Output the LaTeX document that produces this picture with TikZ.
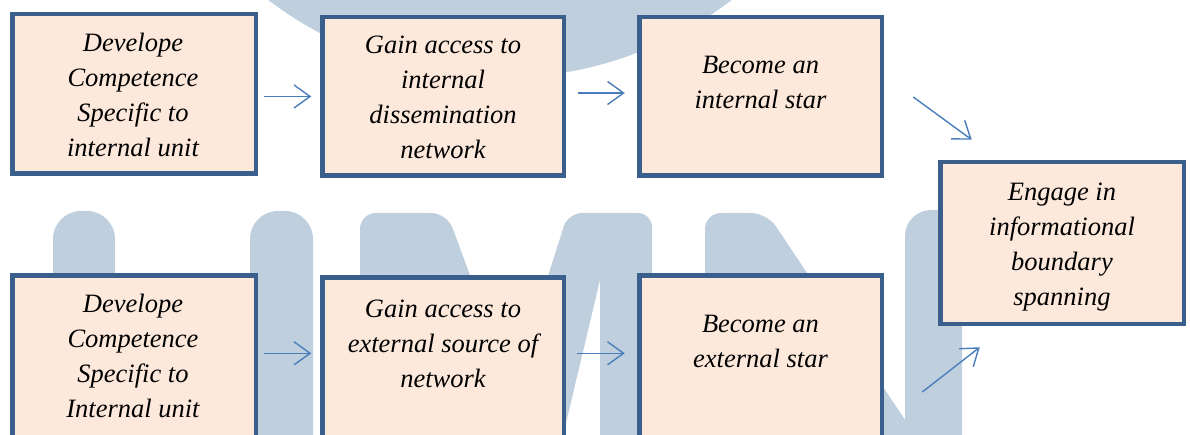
\documentclass[tikz,border=0pt]{standalone}
\usepackage{fontspec}
\setmainfont{Liberation Serif}
\usetikzlibrary{arrows.meta}

\definecolor{boxfill}{HTML}{FDE9DC}
\definecolor{boxline}{HTML}{3A5F8D}
\definecolor{arrowblue}{HTML}{4A7EBB}
\definecolor{logoblue}{HTML}{BFCFDE}

\begin{document}
\begin{tikzpicture}[x=1pt,y=1pt,
		box/.style={draw=boxline, fill=boxfill, line width=4.5pt, inner sep=0pt},
		txt/.style={align=center, inner sep=0pt, font=\fontsize{26.5}{35}\selectfont\itshape},
		arr/.style={draw=arrowblue, line width=1.4pt, -{Straight Barb[length=16pt,width=23pt]}},
		logo/.style={fill=logoblue}]
			\useasboundingbox (0,0) rectangle (1190,434);
			\clip (0,0) rectangle (1190,434);
			
			%%%letters behind
			\fill[logo] (500,739) circle (383);
			\fill[logo, rounded corners=28pt] (53,-40) rectangle (115,223);
			\fill[logo, rounded corners=28pt] (250,-40) rectangle (313,223);
			\fill[logo, rounded corners=16pt] (360,-6) -- (360,221) -- (447,221) -- (531,-6) -- cycle;
			\fill[logo] (496,-6) [rounded corners=14pt] -- (568,221) -- (652,221) [sharp corners] -- (652,-6) -- (600,-6) -- (600,154) -- (562,-6) -- cycle;
			\fill[logo, rounded corners=16pt] (705,-6) -- (705,221) -- (767,221) [sharp corners] -- (918.5,-6) -- cycle;
			\fill[logo, rounded corners=26pt] (905,-40) rectangle (962,224);
			
			%%boxes
			\foreach \n/\x/\y/\w/\h in {dev1/134/340/243.5/159.5, gain1/443/337.5/241.5/158.5,
				star1/760.5/337.5/242.5/158.5, engage/1062/191/243.5/161.5,
				dev2/134/77.5/243.5/162.5, gain2/443/76.5/241.5/160.5, star2/760.5/77.5/242.5/162.5}
			{
				\node[box, minimum width=\w pt, minimum height=\h pt] (\n) at (\x,\y) {};
			}
			
			%%texts
			\node[txt] (dev1t) at ([shift={(-1pt,-0.5pt)}]dev1.center) {Develope\\Competence\\Specific to\\internal unit};
			\node[txt] (gain1t) at ([yshift=-1pt]gain1.center) {Gain access to\\internal\\dissemination\\network};
			\node[txt] (star1t) at ([yshift=14pt]star1.center) {Become an\\internal star};
			\node[txt] (engaget) at ([yshift=-4.5pt]engage.center) {Engage in\\informational\\boundary\\spanning};
			\node[txt] (dev2t) at ([shift={(-1pt,0.5pt)}]dev2.center) {Develope\\Competence\\Specific to\\Internal unit};
			\node[txt] (gain2t) at ([yshift=13.5pt]gain2.center) {Gain access to\\external source of\\network};
			\node[txt] (star2t) at ([yshift=15pt]star2.center) {Become an\\external star};
			
			%%arrows
			\draw[arr, shorten <=6.25pt, shorten >=8.75pt] (dev1.east |- gain1.west) -- (gain1.west);
			\draw[arr, shorten <=11.75pt, shorten >=12.25pt] ([yshift=3.5pt]gain1.east) -- ([yshift=3.5pt]star1.west);
			\draw[arr] ([shift={(29.25pt,-0.5pt)}]star1.east) -- ([shift={(33.75pt,20.25pt)}]engage.north west);
			\draw[arr, shorten <=6.25pt, shorten >=8.75pt] ([yshift=3.2pt]dev2.east) -- ([yshift=3.2pt]dev2.east -| gain2.west);
			\draw[arr, shorten <=11.25pt, shorten >=12.25pt] ([yshift=4.2pt]gain2.east) -- ([yshift=4.2pt]gain2.east -| star2.west);
			\draw[arr] ([shift={(38.25pt,-35.5pt)}]star2.east) -- ([shift={(41.75pt,-21.25pt)}]engage.south west);
		\end{tikzpicture}
\end{document}
